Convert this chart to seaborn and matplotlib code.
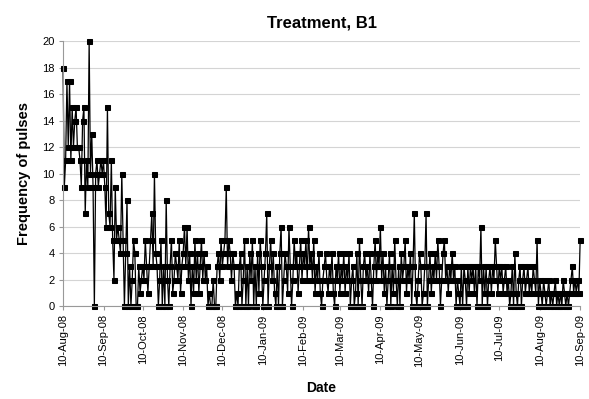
import pandas as pd
import matplotlib
matplotlib.use("Agg")
import matplotlib.pyplot as plt
import matplotlib.dates as mdates
import seaborn as sns

# daily pulse counts, 10-Aug-08 .. 10-Sep-09 (month by month)
aug08 = [18, 9, 11, 17, 12, 17, 11, 15, 12, 14, 15, 12, 12, 11, 9, 14, 15, 7, 11, 9,
         20, 10, 13, 9, 0, 10, 11, 9, 10, 11, 10]
sep08 = [11, 9, 6, 15, 7, 6, 11, 5, 2, 9, 5, 6, 5, 4, 10, 5, 0, 4, 8, 0,
         3, 0, 2, 5, 4, 0, 0, 3, 1, 2]
oct08 = [3, 2, 5, 3, 1, 3, 5, 7, 3, 10, 4, 3, 0, 2, 5, 0, 3, 0, 8, 2,
         0, 3, 5, 1, 2, 4, 3, 2, 5, 1, 3]
nov08 = [4, 6, 3, 6, 2, 4, 0, 3, 1, 5, 2, 4, 1, 3, 5, 2, 4, 2, 3, 0,
         1, 0, 0, 2, 0, 0, 3, 4, 2, 5, 3]
dec08 = [4, 5, 9, 3, 5, 4, 2, 4, 3, 0, 1, 0, 3, 4, 0, 2, 5, 0, 3, 0,
         4, 2, 5, 0, 3, 0, 4, 1, 5, 3, 0]
jan09 = [2, 4, 7, 0, 3, 5, 2, 4, 1, 0, 3, 0, 4, 6, 0, 2, 4, 3, 1, 6,
         3, 0, 2, 5, 3, 4, 1, 3, 5, 2, 4]
feb09 = [3, 5, 2, 6, 3, 4, 2, 5, 1, 3, 2, 4, 1, 0, 2, 3, 4, 2, 1, 3,
         2, 4, 1, 0, 3, 2, 4, 1]
mar09 = [3, 2, 4, 1, 3, 2, 4, 0, 2, 3, 0, 1, 4, 0, 5, 2, 0, 3, 4, 2,
         3, 1, 4, 2, 0, 3, 5, 2, 4, 3, 6]
apr09 = [2, 4, 1, 3, 0, 2, 4, 0, 3, 1, 5, 2, 0, 3, 0, 4, 2, 3, 5, 1,
         3, 2, 4, 0, 3, 7, 1, 0, 2, 4]
may09 = [3, 0, 1, 3, 7, 0, 2, 4, 1, 3, 2, 4, 2, 5, 3, 0, 2, 4, 5, 2,
         3, 1, 3, 2, 4, 2, 3, 0, 2, 1, 0]
jun09 = [3, 0, 3, 2, 0, 3, 1, 3, 2, 3, 1, 3, 0, 3, 2, 6, 0, 3, 1, 3,
         0, 2, 3, 1, 3, 2, 5, 3, 1, 3]
jul09 = [2, 3, 1, 2, 3, 1, 2, 0, 1, 3, 0, 4, 1, 0, 2, 3, 0, 2, 3, 1,
         2, 3, 1, 2, 1, 3, 2, 1, 5, 0, 2]
aug09 = [1, 0, 2, 1, 0, 1, 2, 0, 1, 0, 1, 2, 0, 1, 0, 1, 0, 2, 1, 0,
         1, 0, 1, 2, 3, 1, 2, 1, 2, 1, 5]

pulses = aug08 + sep08 + oct08 + nov08 + dec08 + jan09 + feb09 + mar09 + apr09 + may09 + jun09 + jul09 + aug09
dates = pd.date_range("2008-08-10", periods=len(pulses), freq="D")
df = pd.DataFrame({"Date": dates, "Pulses": pulses})

sns.set_theme(style="white")
plt.rcParams['font.family'] = ['Liberation Sans', 'DejaVu Sans']
plt.rcParams['text.color'] = 'black'
plt.rcParams['axes.labelcolor'] = 'black'

fig, ax = plt.subplots(figsize=(5.89, 3.99), dpi=100)
fig.subplots_adjust(left=0.107, right=0.985, bottom=0.233, top=0.897)

sns.lineplot(data=df, x="Date", y="Pulses", ax=ax, color="black", linewidth=0.9,
             marker="s", markersize=3.6, markeredgecolor="black", clip_on=False)

ax.set_ylim(0, 20)
ax.set_yticks(range(0, 21, 2))
ax.set_xlim(pd.Timestamp("2008-08-10"), pd.Timestamp("2009-09-10"))
ax.xaxis.set_major_locator(mdates.MonthLocator(bymonthday=10))
ax.xaxis.set_major_formatter(mdates.DateFormatter("%d-%b-%y"))
plt.setp(ax.get_xticklabels(), rotation=90)
ax.tick_params(axis="x", labelsize=8, length=3, width=0.8, color="#999999",
               labelcolor="black", pad=3)
ax.tick_params(axis="y", labelsize=8, length=3, width=0.8, color="#999999",
               labelcolor="black", pad=3)
ax.tick_params(bottom=True, left=True)

ax.yaxis.grid(True, color="#d4d4d4", linewidth=0.8)
ax.set_axisbelow(True)
for side in ["top", "right"]:
    ax.spines[side].set_visible(False)
for side in ["left", "bottom"]:
    ax.spines[side].set_color("#999999")
    ax.spines[side].set_linewidth(0.8)

ax.set_title("Treatment, B1", fontsize=12, fontweight="bold", pad=10, color="black")
ax.set_xlabel("Date", fontsize=10, fontweight="bold", labelpad=10)
ax.set_ylabel("Frequency of pulses", fontsize=10.5, fontweight="bold", labelpad=8)

fig.savefig("out.png", dpi=100)
